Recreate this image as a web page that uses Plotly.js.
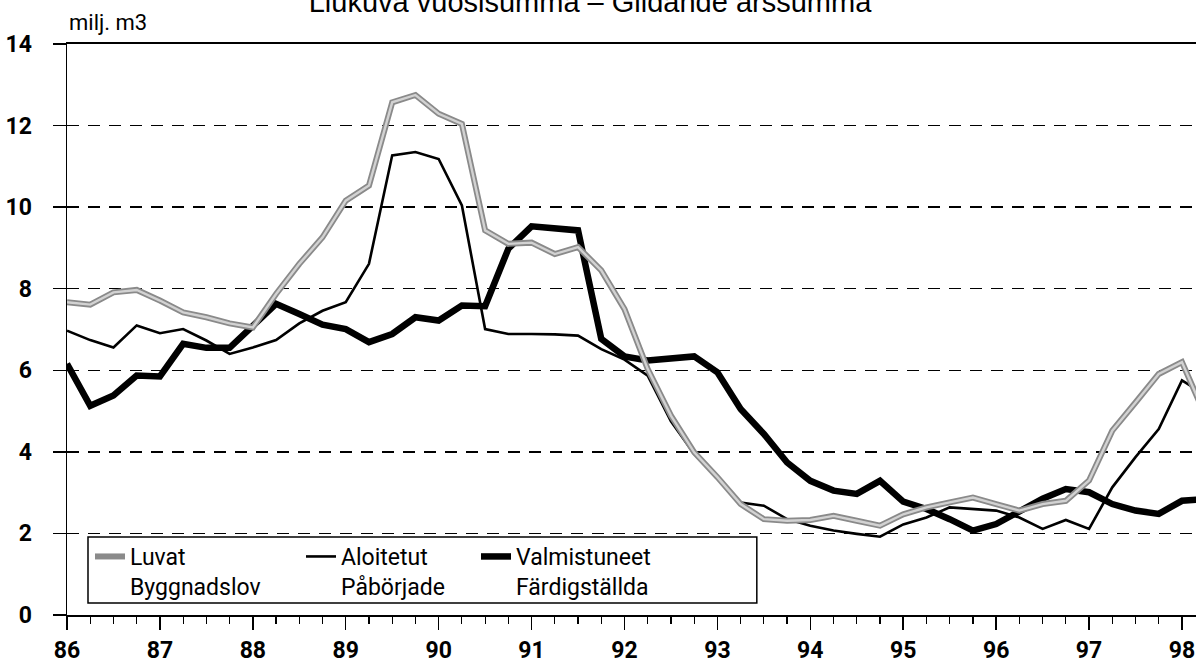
<!DOCTYPE html>
<html><head><meta charset="utf-8">
<script src="https://cdn.plot.ly/plotly-3.0.1.min.js"></script>
<style>html,body{margin:0;padding:0;background:#fff}#chart{width:1196px;height:668px}</style>
</head><body><div id="chart"></div>
<script>
// Quarterly time points (year fractions, 1986 = 86)
const quarters = [86,86.25,86.5,86.75,87,87.25,87.5,87.75,88,88.25,88.5,88.75,89,89.25,89.5,89.75,90,90.25,90.5,90.75,91,91.25,91.5,91.75,92,92.25,92.5,92.75,93,93.25,93.5,93.75,94,94.25,94.5,94.75,95,95.25,95.5,95.75,96,96.25,96.5,96.75,97,97.25,97.5,97.75,98,98.25];

// Luvat / Byggnadslov (milj. m3, moving annual sum)
const luvat = [7.67,7.61,7.91,7.97,7.71,7.42,7.30,7.15,7.05,7.87,8.61,9.26,10.16,10.53,12.57,12.75,12.29,12.04,9.43,9.10,9.13,8.85,9.02,8.45,7.50,6.03,4.89,3.99,3.38,2.72,2.35,2.31,2.33,2.43,2.31,2.19,2.47,2.64,2.76,2.88,2.72,2.56,2.72,2.80,3.30,4.52,5.21,5.91,6.20,4.90];

// Aloitetut / Påbörjade
const aloitetut = [6.97,6.74,6.56,7.10,6.91,7.01,6.73,6.40,6.56,6.74,7.15,7.46,7.67,8.61,11.27,11.35,11.18,10.04,7.01,6.89,6.89,6.88,6.85,6.52,6.26,5.87,4.75,3.95,3.38,2.76,2.68,2.35,2.19,2.07,1.99,1.92,2.22,2.39,2.64,2.60,2.56,2.39,2.11,2.33,2.11,3.13,3.87,4.56,5.75,5.40];

// Valmistuneet / Färdigställda
const valmistuneet = [6.16,5.13,5.38,5.87,5.85,6.65,6.55,6.55,7.09,7.63,7.38,7.12,7.01,6.69,6.89,7.30,7.22,7.59,7.57,8.98,9.53,9.47,9.43,6.77,6.34,6.24,6.28,6.34,5.95,5.05,4.44,3.74,3.29,3.05,2.97,3.29,2.78,2.60,2.35,2.07,2.23,2.52,2.85,3.09,3.01,2.72,2.56,2.48,2.80,2.84];

const seriesNames = ['Luvat<br>Byggnadslov', 'Aloitetut<br>Påbörjade', 'Valmistuneet<br>Färdigställda'];

const yearTicks = [86,87,88,89,90,91,92,93,94,95,96,97,98];
const yearLabels = ['86','87','88','89','90','91','92','93','94','95','96','97','98'];
const yTicks = [0,2,4,6,8,10,12,14];
const yLabels = ['\u20070','\u20072','\u20074','\u20076','\u20078','10','12','14'];

const titleText = 'Liukuva vuosisumma \u2013 Glidande årssumma';
const unitText = 'milj. m3';

const cond = 'Roboto, "Liberation Sans", sans-serif';

const traces = [
  {x: quarters, y: valmistuneet, type: 'scatter', mode: 'lines', name: seriesNames[2],
   line: {color: '#000', width: 6.5}, legend: 'legend3'},
  {x: quarters, y: aloitetut, type: 'scatter', mode: 'lines', name: seriesNames[1],
   line: {color: '#000', width: 2.6}, legend: 'legend2'},
  {x: quarters, y: luvat, type: 'scatter', mode: 'lines', name: seriesNames[0],
   line: {color: '#8a8a8a', width: 6}, legend: 'legend'},
  {x: quarters, y: luvat, type: 'scatter', mode: 'lines', name: seriesNames[0],
   line: {color: '#d2d2d2', width: 2.4}, showlegend: false, hoverinfo: 'skip'}
];

// plot area: left 67px, width 1129px; bottom 615px, height 571px
function legendAt(px, py) {
  return {x: (px - 67) / 1129, xref: 'paper', y: (615 - py) / 571, yref: 'paper',
    xanchor: 'left', yanchor: 'top', bgcolor: 'rgba(0,0,0,0)', borderwidth: 0,
    font: {family: cond, size: 23, color: '#000'}, valign: 'top', itemwidth: 30,
    tracegroupgap: 0};
}

const layout = {
  width: 1196, height: 668,
  margin: {l: 67, r: 0, t: 44, b: 53, pad: 0},
  paper_bgcolor: '#fff', plot_bgcolor: '#fff',
  showlegend: true,
  title: {text: titleText, x: 590 / 1196, xanchor: 'center', xref: 'container',
    y: 0.997, yref: 'container', yanchor: 'middle',
    font: {family: '"Liberation Sans", Arial, sans-serif', size: 29, color: '#000'}},
  xaxis: {range: [86, 98.151], tickmode: 'array', tickvals: yearTicks, ticktext: yearLabels,
    ticks: 'outside', ticklen: 13, tickwidth: 1.5, tickcolor: '#000',
    showline: true, linecolor: '#000', linewidth: 2, mirror: true,
    showgrid: false, zeroline: false, automargin: false,
    tickfont: {family: cond, size: 23, color: '#000', weight: 'bold'},
    minor: {tickmode: 'linear', tick0: 86, dtick: 0.25, ticks: 'outside', ticklen: 7,
      tickwidth: 1.2, tickcolor: '#000', showgrid: false},
    fixedrange: true},
  yaxis: {range: [0, 14], tickmode: 'array', tickvals: yTicks, ticktext: yLabels,
    ticks: 'outside', ticklen: 13, tickwidth: 1.5, tickcolor: '#000',
    showline: true, linecolor: '#000', linewidth: 1.5, automargin: false,
    showgrid: true, gridcolor: '#000', gridwidth: 1.4, griddash: '12px,9px',
    zeroline: false, ticklabelstandoff: 16,
    tickfont: {family: cond, size: 23, color: '#000', weight: 'bold'},
    fixedrange: true},
  legend: legendAt(90, 535),
  legend2: legendAt(301, 535),
  legend3: legendAt(476, 535),
  shapes: [{type: 'rect', xref: 'paper', yref: 'paper',
    x0: 0.0186, x1: 0.611, y0: 0.021, y1: 0.1366,
    fillcolor: '#fff', line: {color: '#000', width: 1.5}, layer: 'above'}],
  annotations: [{text: unitText, xref: 'paper', yref: 'paper', x: 0, y: 1,
    xanchor: 'left', yanchor: 'middle', yshift: 22, showarrow: false,
    font: {family: cond, size: 22, color: '#000', weight: 'normal'}}]
};

Plotly.newPlot('chart', traces, layout, {displayModeBar: false, staticPlot: true});
</script>
</body></html>
